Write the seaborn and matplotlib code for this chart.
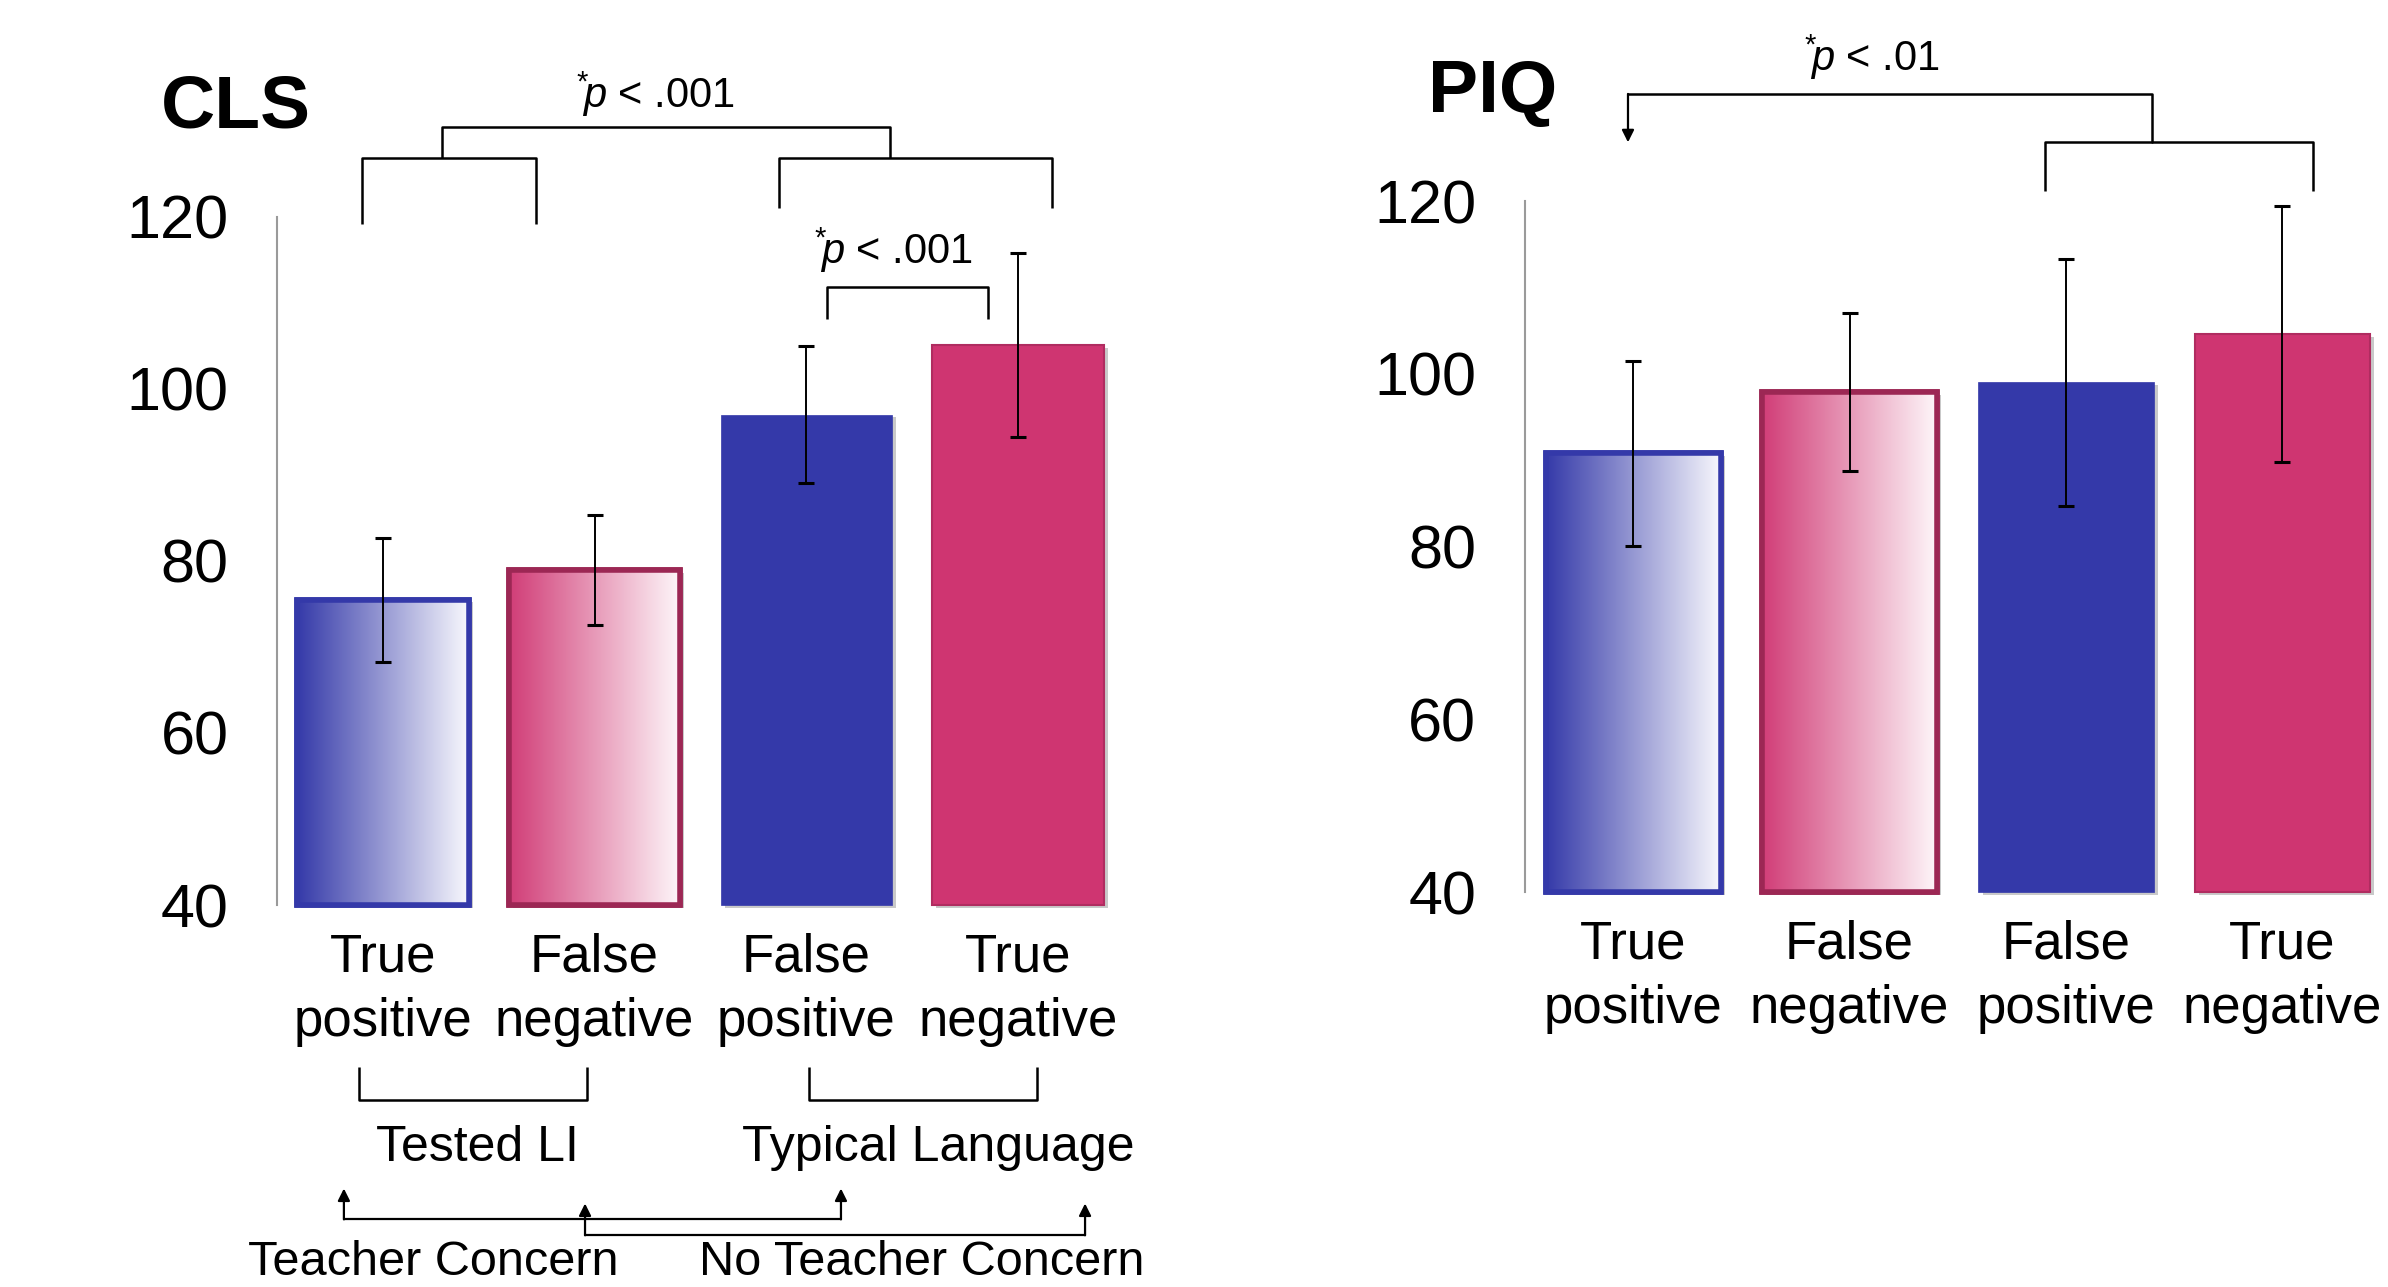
import numpy as np
import matplotlib
matplotlib.use('Agg')
import matplotlib.pyplot as plt
import matplotlib.patheffects as pe
from matplotlib.patches import Rectangle
import seaborn as sns

# values
categories = ['True\npositive', 'False\nnegative', 'False\npositive', 'True\nnegative']
cls_means = [75.5, 78.9, 97.0, 105.1]
cls_err = [7.2, 6.4, 8.0, 10.7]
piq_means = [90.8, 97.9, 99.0, 104.6]
piq_err = [10.7, 9.1, 14.3, 14.8]
yticks = [40, 60, 80, 100, 120]
YMIN, YMAX = 40, 120

BLUE = '#3439a9'
PINK = '#cf3571'
# (face, gradient start, gradient end, edge colour, edge width)
bar_styles = [
    ('white', '#353aa9', '#f8f8fd', '#3439a9', 4.0),
    ('white', '#d13d77', '#fef7fa', '#9c2754', 4.0),
    (BLUE, None, None, BLUE, 0.5),
    (PINK, None, None, '#b02c60', 1.5),
]

sns.set_style('white')
plt.rcParams['font.family'] = ['Liberation Sans', 'DejaVu Sans']
plt.rcParams['mathtext.fontset'] = 'custom'
plt.rcParams['mathtext.rm'] = 'Liberation Sans'
plt.rcParams['mathtext.it'] = 'Liberation Sans:italic'
plt.rcParams['text.color'] = 'black'
plt.rcParams['xtick.labelcolor'] = 'black'
plt.rcParams['ytick.labelcolor'] = 'black'

fig = plt.figure(figsize=(23.88, 12.87), dpi=100)
ax1 = fig.add_axes([0.1160, 0.2968, 0.3546, 0.5348])
ax2 = fig.add_axes([0.6386, 0.3069, 0.3625, 0.5369])

shadow = [pe.SimplePatchShadow(offset=(3, -2), shadow_rgbFace='#888888', alpha=0.45), pe.Normal()]


def gradient_img(c0, c1):
    a = np.array(matplotlib.colors.to_rgb(c0))
    b = np.array(matplotlib.colors.to_rgb(c1))
    t = np.linspace(0, 1, 256)[:, None]
    return (a * (1 - t) + b * t)[None, :, :]


def draw_panel(ax, means, errs):
    sns.barplot(x=categories, y=means, hue=categories,
                palette=[s[0] for s in bar_styles], width=0.81, saturation=1,
                errorbar=None, legend=False, ax=ax, zorder=1)
    bars = sorted(ax.patches, key=lambda p: p.get_x())
    for p, (face, g0, g1, edge, lw) in zip(bars, bar_styles):
        top = p.get_y() + p.get_height()
        p.set_y(YMIN)
        p.set_height(top - YMIN)
        p.set_clip_on(False)
        p.set_path_effects(shadow)
        p.set_edgecolor(edge)
        p.set_linewidth(lw)
        if g0 is not None:
            x0, w = p.get_x(), p.get_width()
            im = ax.imshow(gradient_img(g0, g1), extent=[x0, x0 + w, YMIN, top],
                           aspect='auto', zorder=1.5, interpolation='bilinear')
            im.set_clip_path(p)
            ax.add_patch(Rectangle((x0, YMIN), w, top - YMIN, facecolor='none',
                                   edgecolor=edge, linewidth=lw, zorder=1.6,
                                   clip_on=False))
    ax.errorbar(range(len(means)), means, yerr=errs, fmt='none', ecolor='black',
                elinewidth=1.4, capsize=5.5, capthick=2.2, zorder=4)
    ax.set_xlim(-0.5, 3.5)
    ax.set_ylim(YMIN, YMAX)
    ax.set_yticks(yticks)
    ax.set_xlabel('')
    ax.set_ylabel('')
    for s in ['top', 'right', 'bottom']:
        ax.spines[s].set_visible(False)
    ax.spines['left'].set_color('#9a9a9a')
    ax.spines['left'].set_linewidth(1.5)
    ax.tick_params(axis='y', length=12, width=1.5, color='#9a9a9a', pad=23,
                   labelsize=44)
    ax.tick_params(axis='x', length=0, pad=20, labelsize=38)
    for lab in ax.get_xticklabels():
        lab.set_linespacing(1.36)


def bracket(ax, x0, x1, y, y0, y1):
    ax.plot([x0, x0, x1, x1], [y0, y, y, y1], color='black', lw=1.8,
            clip_on=False, solid_joinstyle='round', solid_capstyle='butt')


def arrow(ax, x, y_from, y_to):
    ax.annotate('', xy=(x, y_to), xytext=(x, y_from), annotation_clip=False,
                arrowprops=dict(arrowstyle='-|>', color='black', lw=1.6,
                                mutation_scale=18, shrinkA=0, shrinkB=0))


draw_panel(ax1, cls_means, cls_err)
draw_panel(ax2, piq_means, piq_err)

ptxt = dict(ha='center', va='baseline', fontsize=30)

# CLS annotations
ax1.text(1.286, 132.6, r'$^{*}\!p$ < .001', **ptxt)
bracket(ax1, 0.279, 2.396, 130.4, 126.8, 126.8)
bracket(ax1, -0.098, 0.723, 126.8, 119.2, 119.2)
bracket(ax1, 1.871, 3.161, 126.8, 121.0, 121.0)
ax1.text(2.41, 114.5, r'$^{*}\!p$ < .001', **ptxt)
bracket(ax1, 2.098, 2.859, 111.8, 108.1, 108.1)

# groups under the CLS bars
bracket(ax1, -0.113, 0.964, 17.3, 21.2, 21.2)
bracket(ax1, 2.013, 3.090, 17.3, 21.2, 21.2)
ax1.text(0.445, 10.3, 'Tested LI', ha='center', va='baseline', fontsize=36)
ax1.text(2.622, 10.3, 'Typical Language', ha='center', va='baseline', fontsize=36)

ax1.plot([-0.184, 2.164], [3.46, 3.46], color='black', lw=1.6, clip_on=False)
arrow(ax1, -0.184, 3.46, 7.05)
arrow(ax1, 2.164, 3.46, 7.05)
ax1.plot([0.955, 3.317], [1.61, 1.61], color='black', lw=1.6, clip_on=False)
arrow(ax1, 0.955, 1.61, 5.31)
arrow(ax1, 3.317, 1.61, 5.31)
ax1.text(0.237, -3.0, 'Teacher Concern', ha='center', va='baseline', fontsize=35)
ax1.text(2.547, -3.0, 'No Teacher Concern', ha='center', va='baseline', fontsize=35)

# PIQ annotations
ax2.text(1.104, 135.0, r'$^{*}\!p$ < .01', **ptxt)
ax2.plot([-0.024, 2.399, 2.399], [132.4, 132.4, 126.8], color='black', lw=1.8,
         clip_on=False)
arrow(ax2, -0.024, 132.4, 126.8)
bracket(ax2, 1.904, 3.143, 126.8, 121.2, 121.2)

fig.text(0.0674, 0.9013, 'CLS', fontsize=54, fontweight='bold', ha='left', va='baseline')
fig.text(0.5980, 0.9130, 'PIQ', fontsize=54, fontweight='bold', ha='left', va='baseline')

fig.savefig('out.png', dpi=100, facecolor='white')
